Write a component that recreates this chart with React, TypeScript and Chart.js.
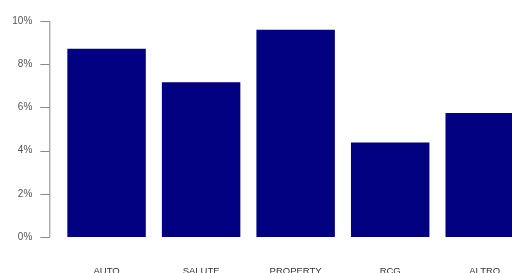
import React, { useEffect, useRef } from "react";
import { Chart, registerables } from "chart.js";

Chart.register(...registerables);

const categories = ["AUTO", "SALUTE", "PROPERTY", "RCG", "ALTRO"];
const values = [8.72, 7.16, 9.6, 4.38, 5.74];
const yTicks = [0, 2, 4, 6, 8, 10];

const axisPlugin = {
  id: "rAxis",
  afterDraw(chart: any) {
    const y = chart.scales.y;
    const ctx = chart.ctx;
    const x = chart.chartArea.left - 10;
    ctx.save();
    ctx.strokeStyle = "#8a8a8a";
    ctx.lineWidth = 1;
    ctx.beginPath();
    ctx.moveTo(x + 0.5, y.getPixelForValue(yTicks[0]));
    ctx.lineTo(x + 0.5, y.getPixelForValue(yTicks[yTicks.length - 1]));
    yTicks.forEach((t) => {
      const py = Math.round(y.getPixelForValue(t)) + 0.5;
      ctx.moveTo(x - 9, py);
      ctx.lineTo(x + 0.5, py);
    });
    ctx.stroke();
    ctx.restore();
  },
};

export default function App() {
  const ref = useRef<HTMLCanvasElement>(null);
  useEffect(() => {
    if (!ref.current) return;
    const chart = new Chart(ref.current, {
      type: "bar",
      data: {
        labels: categories,
        datasets: [
          {
            data: values,
            backgroundColor: "#000080",
            borderWidth: 0,
            barPercentage: 0.83,
            categoryPercentage: 1,
          },
        ],
      },
      options: {
        responsive: false,
        animation: false,
        layout: { padding: { top: 21, left: 0, right: 0, bottom: 0 } },
        plugins: { legend: { display: false }, tooltip: { enabled: false } },
        scales: {
          x: {
            offset: true,
            grid: { display: false, drawTicks: true, tickLength: 25 },
            border: { display: false },
            ticks: {
              padding: 4,
              color: "#333333",
              font: { family: "Liberation Sans, Arial, sans-serif", size: 9.5 },
              maxRotation: 0,
              autoSkip: false,
            },
            afterFit: (s: any) => {
              s.height = 53;
            },
          },
          y: {
            min: 0,
            max: 10,
            grid: { display: false, drawTicks: true, tickLength: 21 },
            border: { display: false },
            afterBuildTicks: (s: any) => {
              s.ticks = yTicks.map((v) => ({ value: v }));
            },
            ticks: {
              padding: 6,
              color: "#555555",
              font: { family: "Liberation Sans, Arial, sans-serif", size: 10 },
              callback: (v: any) => v + "%",
            },
            afterFit: (s: any) => {
              s.width = 59.3;
            },
          },
        },
      },
      plugins: [axisPlugin],
    });
    return () => chart.destroy();
  }, []);
  return (
    <div style={{ position: "fixed", left: 0, top: 0, width: 532, height: 290, background: "#fff" }}>
      <canvas ref={ref} width={532} height={290} />
    </div>
  );
}
